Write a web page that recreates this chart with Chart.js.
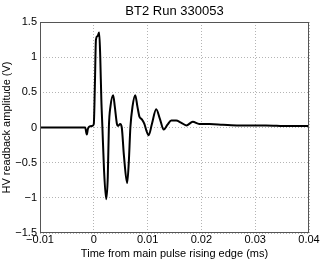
<!DOCTYPE html>
<html>
<head>
<meta charset="utf-8">
<script src="https://cdn.jsdelivr.net/npm/chart.js@4/dist/chart.umd.min.js"></script>
<style>
  html, body { margin: 0; padding: 0; background: #fff; }
  #wrap { width: 322px; height: 261px; }
</style>
</head>
<body>
<div id="wrap"><canvas id="hvChart"></canvas></div>
<script>
// readback trace, time in ms and amplitude in V
const timeMs = [-0.01, -0.005, -0.0016, -0.0013, -0.0011, -0.0009, -0.0003, 0.0, 0.0002, 0.0004, 0.0007, 0.001, 0.0012, 0.0014,
  0.0016, 0.0019, 0.0023, 0.0026, 0.0028, 0.0031, 0.0036, 0.0039, 0.0043, 0.0045, 0.0049, 0.0052, 0.0056, 0.0062, 0.0065,
  0.0068, 0.0072, 0.0077, 0.0081, 0.0085, 0.0089, 0.0094, 0.0098, 0.0102, 0.0108, 0.0116, 0.0123, 0.013, 0.0137, 0.0144,
  0.0153, 0.0162, 0.0172, 0.0184, 0.0196, 0.0215, 0.024, 0.027, 0.032, 0.036, 0.04];
const voltage = [0.0, 0.0, 0.0, -0.10, -0.02, 0.01, 0.02, 0.05, 0.6, 1.25, 1.30, 1.35, 1.0, 0.4,
  0.0, -0.6, -1.02, -0.7, 0.0, 0.3, 0.46, 0.3, 0.05, 0.02, 0.05, 0.0, -0.4, -0.79, -0.5,
  0.0, 0.3, 0.46, 0.3, 0.15, 0.12, 0.05, -0.05, -0.11, 0.05, 0.26, 0.12, -0.03, 0.04, 0.10,
  0.10, 0.07, 0.03, 0.08, 0.05, 0.05, 0.04, 0.03, 0.03, 0.02, 0.02];
const xTicks = [-0.01, 0, 0.01, 0.02, 0.03, 0.04];
const yTicks = [-1.5, -1, -0.5, 0, 0.5, 1, 1.5];
const chartTitle = 'BT2 Run 330053';

const fontFamily = '"Liberation Sans", Arial, sans-serif';

function fmt(v) {
  const s = String(Math.round(v * 1000) / 1000);
  return s.replace('-', '\u2212');
}

// MATLAB style box around the axes, title centred over the plot
const boxPlugin = {
  id: 'boxFrame',
  afterDraw(chart) {
    const a = chart.chartArea;
    const c = chart.ctx;
    c.save();
    c.strokeStyle = '#555';
    c.lineWidth = 1;
    c.strokeRect(a.left + 0.5, a.top + 0.5, a.right - a.left - 1, a.bottom - a.top - 1);
    c.fillStyle = '#000';
    c.font = '13px ' + fontFamily;
    c.textAlign = 'center';
    c.textBaseline = 'middle';
    c.fillText(chartTitle, (a.left + a.right) / 2, 11);
    c.restore();
  }
};

new Chart(document.getElementById('hvChart').getContext('2d'), {
  type: 'scatter',
  data: {
    datasets: [{
      data: timeMs.map((t, i) => ({ x: t, y: voltage[i] })),
      showLine: true,
      borderColor: '#000',
      borderWidth: 2,
      pointRadius: 0,
      cubicInterpolationMode: 'monotone'
    }]
  },
  options: {
    responsive: true,
    maintainAspectRatio: false,
    animation: false,
    layout: { padding: { right: 13, left: 0, top: 22 } },
    plugins: {
      legend: { display: false },
      tooltip: { enabled: false },
      title: { display: false }
    },
    scales: {
      x: {
        type: 'linear',
        min: -0.01,
        max: 0.04,
        afterBuildTicks: s => { s.ticks = xTicks.map(v => ({ value: v })); },
        afterFit: s => { s.height = 28; },
        ticks: {
          color: '#000',
          font: { family: fontFamily, size: 11 },
          padding: 0,
          maxRotation: 0,
          callback: v => fmt(v)
        },
        grid: { color: '#b4b4b4', drawTicks: false },
        border: { display: false, dash: [1, 2] },
        title: {
          display: true,
          text: 'Time from main pulse rising edge (ms)',
          color: '#000',
          font: { family: fontFamily, size: 11 },
          padding: { top: -2, bottom: 0 }
        }
      },
      y: {
        min: -1.5,
        max: 1.5,
        afterBuildTicks: s => { s.ticks = yTicks.map(v => ({ value: v })); },
        afterFit: s => { s.width = 40; },
        ticks: {
          color: '#000',
          font: { family: fontFamily, size: 11 },
          padding: 3,
          callback: v => fmt(v)
        },
        grid: { color: '#b4b4b4', drawTicks: false },
        border: { display: false, dash: [1, 2] },
        title: {
          display: true,
          text: 'HV readback amplitude (V)',
          color: '#000',
          font: { family: fontFamily, size: 11 },
          padding: { top: 0, bottom: 0 }
        }
      }
    }
  },
  plugins: [boxPlugin]
});
</script>
</body>
</html>
